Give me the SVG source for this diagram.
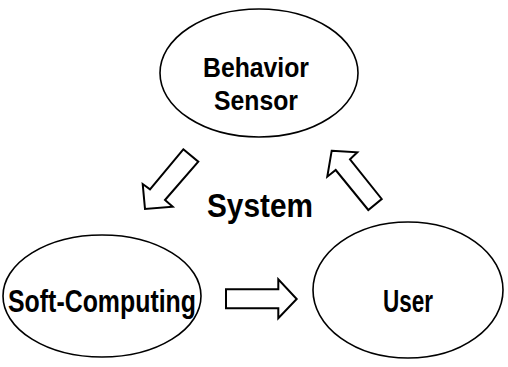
<svg xmlns="http://www.w3.org/2000/svg" width="508" height="367" viewBox="0 0 508 367">
<style>
.node{fill:#fff;stroke:#000;stroke-width:1.6}
.arr{fill:#fff;stroke:#000;stroke-width:2;stroke-linejoin:miter}
.t{font-family:"Liberation Sans",Arial,sans-serif;font-weight:bold;fill:#000;text-anchor:middle}
</style>
<rect width="508" height="367" fill="#fff"/>
<g id="behavior-sensor">
<ellipse class="node" cx="259" cy="73" rx="99" ry="64"/>
<text class="t" x="256" y="77" font-size="28.5" textLength="106" lengthAdjust="spacingAndGlyphs">Behavior</text>
<text class="t" x="256" y="110" font-size="28.5" textLength="84" lengthAdjust="spacingAndGlyphs">Sensor</text>
</g>
<g id="soft-computing">
<ellipse class="node" cx="102" cy="296" rx="99" ry="61"/>
<text class="t" x="102" y="312" font-size="32" textLength="188" lengthAdjust="spacingAndGlyphs">Soft-Computing</text>
</g>
<g id="user">
<ellipse class="node" cx="408" cy="290" rx="95" ry="68"/>
<text class="t" x="408" y="312" font-size="32" textLength="50" lengthAdjust="spacingAndGlyphs">User</text>
</g>
<g id="system-label">
<text class="t" x="260" y="217" font-size="34" textLength="106" lengthAdjust="spacingAndGlyphs">System</text>
</g>
<g id="connectors">
<polygon class="arr" points="183.3,149.3 198.3,161.7 165,200 172.7,206.7 145,209 142.7,184 150,189.3"/>
<polygon class="arr" points="331.7,150.7 357.3,152.3 350,159.3 381.7,199 368.3,210 335.7,170 327.3,176.7"/>
<polygon class="arr" points="226,289.3 278.3,289.3 278.3,279.3 296.7,299 278.3,318.3 278.3,308.3 226,308.3"/>
</g>
</svg>
